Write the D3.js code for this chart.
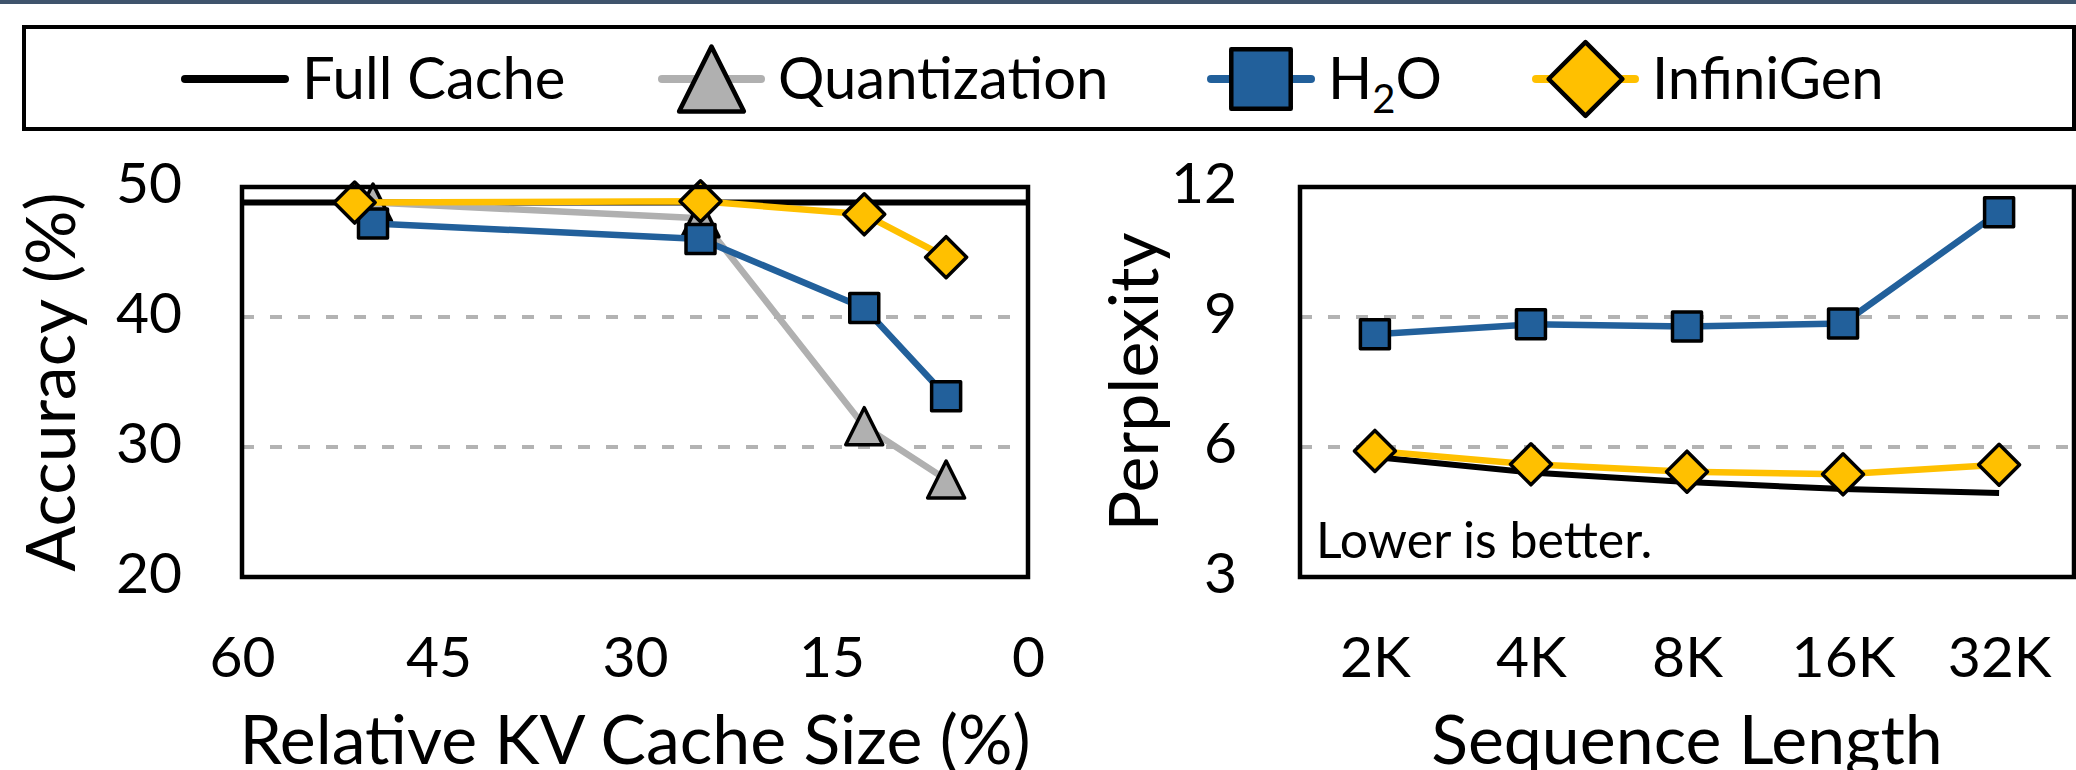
<!DOCTYPE html>
<html>
<head>
<meta charset="utf-8">
<script src="https://cdn.jsdelivr.net/npm/d3@7"></script>
<style>
  body { margin: 0; background: #fff; }
  text { font-family: Lato, "Open Sans", sans-serif; fill: #000; }
</style>
</head>
<body>
<svg id="main-svg"></svg>
<script>
// --- data ---
const methods = ["Full Cache", "Quantization", "H2O", "InfiniGen"];

// left panel: accuracy vs relative KV cache size
const kvTicks = [60, 45, 30, 15, 0];
const accTicks = [20, 30, 40, 50];
const kvFullCache = [60, 0];
const accFullCache = [48.8, 48.8];
const kvQuant = [50, 25, 12.5, 6.25];
const accQuant = [48.8, 47.6, 31.6, 27.5];
const kvH2O = [50, 25, 12.5, 6.25];
const accH2O = [47.2, 46.0, 40.7, 33.9];
const kvInfiniGen = [51.4, 25, 12.5, 6.25];
const accInfiniGen = [48.8, 48.9, 47.9, 44.6];

// right panel: perplexity vs sequence length
const seqLengths = ["2K", "4K", "8K", "16K", "32K"];
const pplTicks = [3, 6, 9, 12];
const pplFullCache = [5.77, 5.41, 5.19, 5.03, 4.94];
const pplH2O = [8.6, 8.83, 8.78, 8.85, 11.42];
const pplInfiniGen = [5.91, 5.6, 5.43, 5.37, 5.59];

// --- setup ---
const width = 2076, height = 770;
const svg = d3.select("#main-svg").attr("width", width).attr("height", height);

const colors = { full: "#000000", quant: "#b0b0b0", h2o: "#22609b", inf: "#ffc000" };
const tickFont = 57, titleFont = 68;

svg.append("rect").attr("width", width).attr("height", 4).attr("fill", "#3f546c");

// marker path helpers (centered at 0,0)
function squarePath(s) { const h = s / 2; return `M${-h},${-h}H${h}V${h}H${-h}Z`; }
function diamondPath(r) { return `M0,${-r}L${r},0L0,${r}L${-r},0Z`; }
function trianglePath(w, h) { return `M0,${-h / 2}L${w / 2},${h / 2}L${-w / 2},${h / 2}Z`; }

function drawMarkers(g, pts, kind, scale) {
  const k = scale || 1;
  const d = kind === "square" ? squarePath(29 * k)
          : kind === "diamond" ? diamondPath(20.5 * k)
          : trianglePath(37 * k, 37 * k);
  const fill = kind === "square" ? colors.h2o : kind === "diamond" ? colors.inf : colors.quant;
  g.selectAll(null).data(pts).enter().append("path")
    .attr("d", d)
    .attr("transform", p => `translate(${p[0]},${p[1]})`)
    .attr("fill", fill)
    .attr("stroke", "#000")
    .attr("stroke-width", k > 1 ? 4.5 : 3.5)
    .attr("stroke-linejoin", "round");
}

function drawLine(g, pts, color, w) {
  g.append("path")
    .attr("d", d3.line()(pts))
    .attr("fill", "none")
    .attr("stroke", color)
    .attr("stroke-width", w)
    .attr("stroke-linejoin", "round");
}

function styleAxis(a) {
  a.select(".domain").remove();
  a.selectAll("text").style("font-size", tickFont + "px").style("font-family", "Lato");
}

// --- legend ---
function drawLegend() {
  const g = svg.append("g");
  g.append("rect").attr("x", 24).attr("y", 27).attr("width", 2050).attr("height", 102)
    .attr("fill", "none").attr("stroke", "#000").attr("stroke-width", 4);
  const cy = 79;
  const items = [
    { x0: 185, x1: 285, tx: 302, color: colors.full, kind: null, k: 1, label: "Full Cache" },
    { x0: 662, x1: 761, tx: 778, color: colors.quant, kind: "triangle", k: 1.75, label: "Quantization" },
    { x0: 1211, x1: 1311, tx: 1328, color: colors.h2o, kind: "square", k: 2.05, label: "H2O" },
    { x0: 1536, x1: 1635, tx: 1652, color: colors.inf, kind: "diamond", k: 1.8, label: "InfiniGen" }
  ];
  items.forEach(it => {
    g.append("line").attr("x1", it.x0).attr("x2", it.x1).attr("y1", cy).attr("y2", cy)
      .attr("stroke", it.color).attr("stroke-width", 8).attr("stroke-linecap", "round");
    if (it.kind) drawMarkers(g, [[(it.x0 + it.x1) / 2, cy]], it.kind, it.k);
    const t = g.append("text").attr("x", it.tx).attr("y", 99).style("font-size", "58px");
    if (it.label === "H2O") {
      t.append("tspan").text("H");
      t.append("tspan").text("2").style("font-size", "40px").attr("dy", 14);
      t.append("tspan").text("O").attr("dy", -14);
    } else {
      t.text(it.label);
    }
  });
}

// --- left panel ---
function drawAccuracy() {
  const x0 = 242, x1 = 1028, y0 = 187, y1 = 577;
  const x = d3.scaleLinear().domain([60, 0]).range([x0, x1]);
  const y = d3.scaleLinear().domain([20, 50]).range([y1, y0]);
  const g = svg.append("g");

  g.selectAll(null).data([30, 40]).enter().append("line")
    .attr("x1", x0).attr("x2", x1).attr("y1", d => y(d)).attr("y2", d => y(d))
    .attr("stroke", "#b3b3b3").attr("stroke-width", 4).attr("stroke-dasharray", "12,16");

  const ax = g.append("g").attr("transform", `translate(0,${y1})`)
    .call(d3.axisBottom(x).tickValues(kvTicks).tickSize(0).tickPadding(60).tickFormat(d3.format("d")));
  styleAxis(ax);
  const ay = g.append("g").attr("transform", `translate(${x0},0)`)
    .call(d3.axisLeft(y).tickValues(accTicks).tickSize(0).tickPadding(60));
  styleAxis(ay);
  ay.selectAll("text").attr("dy", "0.28em");

  drawLine(g, kvFullCache.map((k, i) => [x(k), y(accFullCache[i])]), colors.full, 6);
  const q = kvQuant.map((k, i) => [x(k), y(accQuant[i])]);
  const h = kvH2O.map((k, i) => [x(k), y(accH2O[i])]);
  const f = kvInfiniGen.map((k, i) => [x(k), y(accInfiniGen[i])]);
  drawLine(g, q, colors.quant, 6.5);
  drawMarkers(g, q, "triangle");
  drawLine(g, h, colors.h2o, 6.5);
  drawMarkers(g, h, "square");
  drawLine(g, f, colors.inf, 6.5);
  drawMarkers(g, f, "diamond");

  g.append("rect").attr("x", x0).attr("y", y0).attr("width", x1 - x0).attr("height", y1 - y0)
    .attr("fill", "none").attr("stroke", "#000").attr("stroke-width", 4.5);

  g.append("text").attr("x", (x0 + x1) / 2).attr("y", 764).attr("text-anchor", "middle")
    .style("font-size", titleFont + "px").text("Relative KV Cache Size (%)");
  g.append("text").attr("transform", `translate(75,${(y0 + y1) / 2}) rotate(-90)`)
    .attr("text-anchor", "middle").style("font-size", titleFont + "px").text("Accuracy (%)");
}

// --- right panel ---
function drawPerplexity() {
  const x0 = 1300, x1 = 2074, y0 = 187, y1 = 577;
  const x = d3.scalePoint().domain(seqLengths).range([x0, x1]).padding(0.48);
  const y = d3.scaleLinear().domain([3, 12]).range([y1, y0]);
  const g = svg.append("g");

  g.selectAll(null).data([6, 9]).enter().append("line")
    .attr("x1", x0).attr("x2", x1).attr("y1", d => y(d)).attr("y2", d => y(d))
    .attr("stroke", "#b3b3b3").attr("stroke-width", 4).attr("stroke-dasharray", "12,16");

  const ax = g.append("g").attr("transform", `translate(0,${y1})`)
    .call(d3.axisBottom(x).tickSize(0).tickPadding(60));
  styleAxis(ax);
  const ay = g.append("g").attr("transform", `translate(${x0},0)`)
    .call(d3.axisLeft(y).tickValues(pplTicks).tickSize(0).tickPadding(63));
  styleAxis(ay);
  ay.selectAll("text").attr("dy", "0.28em");

  drawLine(g, seqLengths.map((s, i) => [x(s), y(pplFullCache[i])]), colors.full, 6);
  const h = seqLengths.map((s, i) => [x(s), y(pplH2O[i])]);
  const f = seqLengths.map((s, i) => [x(s), y(pplInfiniGen[i])]);
  drawLine(g, h, colors.h2o, 6.5);
  drawMarkers(g, h, "square");
  drawLine(g, f, colors.inf, 6.5);
  drawMarkers(g, f, "diamond");

  g.append("rect").attr("x", x0).attr("y", y0).attr("width", x1 - x0).attr("height", y1 - y0)
    .attr("fill", "none").attr("stroke", "#000").attr("stroke-width", 4.5);

  g.append("text").attr("x", 1316).attr("y", 558).style("font-size", "50px").text("Lower is better.");

  g.append("text").attr("x", (x0 + x1) / 2).attr("y", 764).attr("text-anchor", "middle")
    .style("font-size", titleFont + "px").text("Sequence Length");
  g.append("text").attr("transform", `translate(1158,${(y0 + y1) / 2}) rotate(-90)`)
    .attr("text-anchor", "middle").style("font-size", titleFont + "px").text("Perplexity");
}

drawLegend();
drawAccuracy();
drawPerplexity();
</script>
</body>
</html>
